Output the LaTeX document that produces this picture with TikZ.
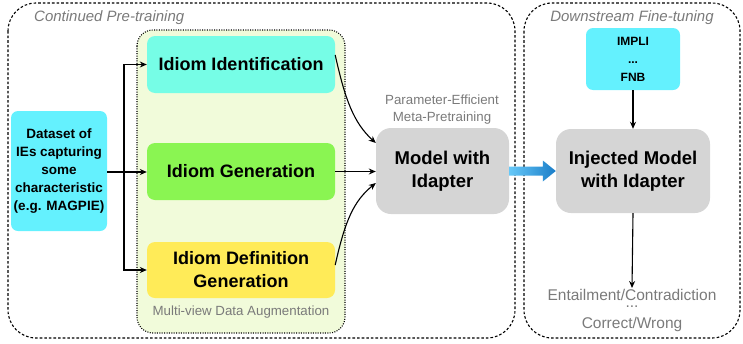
\documentclass[tikz,border=0pt]{standalone}
\usepackage{fontspec}
\setmainfont{Liberation Sans}
\usetikzlibrary{arrows.meta,calc}
\definecolor{idcyan}{HTML}{76FDE6}
\definecolor{dscyan}{HTML}{64F1FE}
\definecolor{gengreen}{HTML}{8AF552}
\definecolor{defyellow}{HTML}{FFEB58}
\definecolor{augbg}{HTML}{F1FBDA}
\definecolor{modelgray}{HTML}{D5D5D5}
\definecolor{labelgray}{HTML}{7A7A7A}
\definecolor{arrowlight}{HTML}{66C8F8}
\definecolor{arrowdark}{HTML}{1A7DC8}
\begin{document}
\begin{tikzpicture}[x=1pt,y=-1pt,
  phase/.style={draw, line width=1.1pt, dash pattern=on 2.6pt off 2pt, rounded corners=28pt},
  augbox/.style={draw, fill=augbg, line width=1.1pt, dash pattern=on 1pt off 1.4pt, rounded corners=16pt},
  task/.style={rounded corners=8pt, minimum width=188pt, inner sep=0pt, align=center,
    font=\fontsize{18}{23}\selectfont\bfseries},
  modelbox/.style={fill=modelgray, rounded corners=15pt, inner sep=0pt, align=center,
    font=\fontsize{18.5}{23}\selectfont\bfseries},
  databox/.style={rounded corners=7pt, inner sep=0pt, align=center},
  graylabel/.style={text=labelgray, inner sep=0pt, align=center},
  arr/.style={line width=1.1pt, -{Stealth[length=7pt,width=6pt]}}
]
\useasboundingbox (0,0) rectangle (743,343);
% phase frames
\draw[phase] (8,3) rectangle (515,338);
\draw[phase] (524,3) rectangle (740,338);
\node[graylabel, anchor=west, font=\fontsize{15}{18}\selectfont\itshape] (pretitle) at (34,18) {Continued Pre-training};
\node[graylabel, font=\fontsize{15}{18}\selectfont\itshape] (fttitle) at (632,18) {Downstream Fine-tuning};
% augmentation box
\draw[augbox] (137,30) rectangle (345,333);
\node[graylabel, font=\fontsize{13.3}{16}\selectfont] (auglabel) at (241,312) {Multi-view Data Augmentation};
% task nodes
\node[task, fill=idcyan, minimum height=57pt] (idid) at (241,64.5) {Idiom Identification};
\node[task, fill=gengreen, minimum height=57pt] (idgen) at (241,171.5) {Idiom Generation};
\node[task, fill=defyellow, minimum height=56pt] (idef) at (241,270) {Idiom Definition\\Generation};
% dataset
\node[databox, fill=dscyan, minimum width=96pt, minimum height=120pt,
  font=\fontsize{13.5}{18}\selectfont\bfseries] (data) at (59,171)
  {Dataset of\\IEs capturing\\some\\characteristic\\(e.g. MAGPIE)};
% model
\node[modelbox, minimum width=133pt, minimum height=86pt] (model) at (442.5,171) {Model with\\Idapter};
\node[graylabel, font=\fontsize{13.3}{17}\selectfont] (pemp) at (442,110) {Parameter-Efficient\\Meta-Pretraining};
% injected
\node[modelbox, minimum width=154pt, minimum height=84pt] (inj) at (633,171) {Injected Model\\with Idapter};
\node[databox, fill=dscyan, minimum width=94pt, minimum height=62pt,
  font=\fontsize{12}{18}\selectfont\bfseries] (impli) at (633,59) {IMPLI\\...\\FNB};
% outputs
\node[graylabel, anchor=north, font=\fontsize{15.5}{14}\selectfont] (outs) at (632,289)
  {Entailment/Contradiction\\[-7pt]...\\[7pt]Correct/Wrong};
% connectors left
\coordinate (split) at (124,172);
\draw[arr] (data.east |- split) -- (idgen.west |- split);
\draw[arr] (split) |- (idid.west);
\draw[arr] (split) |- (idef.west);
% to model
\draw[arr] ([yshift=9.5pt]idid.east) .. controls +(10,45) and +(-22,-20) .. ([yshift=28pt]model.west);
\draw[arr] (idgen.east) -- (idgen.east -| model.west);
\draw[arr] ([yshift=5pt]idef.east) .. controls +(10,-45) and +(-22,18) .. ([yshift=-12pt]model.west);
% blue transfer arrow
\shade[left color=arrowlight, right color=arrowdark]
  ($(model.east)+(0,-4.5)$) -- ($(inj.west)+(-13,-4.5)$) -- ($(inj.west)+(-13,-10.5)$) --
  (inj.west) -- ($(inj.west)+(-13,10.5)$) -- ($(inj.west)+(-13,4.5)$) -- ($(model.east)+(0,4.5)$) -- cycle;
% right connectors
\draw[arr] (impli) -- (inj);
\draw[arr] (inj.south) -- ([yshift=1pt]outs.north);
\end{tikzpicture}
\end{document}
